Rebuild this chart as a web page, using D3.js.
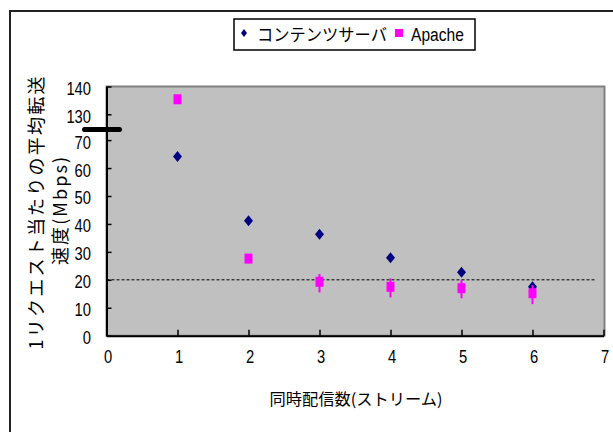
<!DOCTYPE html>
<html><head><meta charset="utf-8">
<script src="https://cdn.jsdelivr.net/npm/d3@7"></script>
<style>
body{margin:0;background:#fff}
text{font-family:"Liberation Sans",Arial,sans-serif;fill:#000}
.jp{font-family:"Noto Sans CJK JP","Noto Sans CJK SC",sans-serif}
</style>
</head><body><svg id="c" width="613" height="432"></svg>
<script>
// ---- data ----
const streams = [1, 2, 3, 4, 5, 6];
const contentServer = [64.1, 41.1, 36.3, 27.9, 22.7, 17.5];
const apache = [135.4, 27.6, 19.3, 17.5, 17.0, 15.2];
const apacheErrLow = [null, null, 15.5, 13.7, 13.4, 11.3];
const apacheErrHigh = [null, null, 22.1, 20.5, 19.9, 18.1];
const xTicks = [0, 1, 2, 3, 4, 5, 6, 7];
const yTicks = [0, 10, 20, 30, 40, 50, 60, 70, 130, 140];
const refLineX = [0, 6.9];
const refLineY = 20;
const seriesNames = ["コンテンツサーバ", "Apache"];
const xTitle = "同時配信数(ストリーム)";
const yTitle1 = "1リクエスト当たりの平均転送";
const yTitle2 = "速度(Mbps)";

const svg = d3.select("#c");
const L = 106.5, R = 604.5, T = 86.5, B = 335.7;
const x = d3.scaleLinear().domain([0, 7]).range([L, 603.5]);
const y = d3.scaleLinear().domain([0, 70, 130, 140]).range([B, 140.1, 114.3, T]);

// outer border
svg.append("rect").attr("x", 10).attr("y", 11).attr("width", 640).attr("height", 460)
  .attr("fill", "none").attr("stroke", "#222").attr("stroke-width", 2);

// plot area
svg.append("rect").attr("x", L).attr("y", T).attr("width", R - L).attr("height", B - T)
  .attr("fill", "#C0C0C0").attr("stroke", "#808080").attr("stroke-width", 2);

// reference dashed line
svg.append("line")
  .attr("x1", x(refLineX[0])).attr("x2", x(refLineX[1]))
  .attr("y1", y(refLineY)).attr("y2", y(refLineY))
  .attr("stroke", "#000").attr("stroke-width", 1).attr("stroke-dasharray", "3,2");

// axes
const yAxis = svg.append("g").attr("transform", `translate(${L},0)`)
  .call(d3.axisLeft(y).tickValues(yTicks).tickSize(-5).tickSizeOuter(0).tickFormat(d3.format("d")));
yAxis.select(".domain").attr("stroke", "#000").attr("stroke-width", 2);
yAxis.selectAll(".tick line").attr("stroke", "#000").attr("stroke-width", 1.5);
yAxis.selectAll(".tick text").attr("x", null).attr("dy", null)
  .attr("transform", "translate(-15.5,8) scale(0.82,1)")
  .attr("text-anchor", "end").style("font-size", "18px").attr("fill", "#000");

const xAxis = svg.append("g").attr("transform", `translate(0,${B})`)
  .call(d3.axisBottom(x).tickValues(xTicks).tickSize(-6).tickSizeOuter(0).tickFormat(d3.format("d")));
xAxis.select(".domain").attr("stroke", "#000").attr("stroke-width", 2);
xAxis.selectAll(".tick line").attr("stroke", "#000").attr("stroke-width", 1.5);
xAxis.selectAll(".tick text").attr("y", null).attr("dy", null)
  .attr("transform", "translate(1,27) scale(0.82,1)")
  .attr("text-anchor", "middle").style("font-size", "18px").attr("fill", "#000");

// axis break marker
const breakY = y(70) - 0.41 * (y(70) - y(130));
svg.append("line").attr("x1", L - 22).attr("x2", L + 13).attr("y1", breakY).attr("y2", breakY)
  .attr("stroke", "#000").attr("stroke-width", 5).attr("stroke-linecap", "round");

// series: content server (diamonds)
const diamond = "M0,-5.5L4.5,0L0,5.5L-4.5,0Z";
svg.append("g").selectAll("path").data(streams).join("path")
  .attr("d", diamond)
  .attr("transform", (d, i) => `translate(${x(d)},${y(contentServer[i])})`)
  .attr("fill", "#000080");

// Apache error bars
svg.append("g").selectAll("line").data(streams.filter((d, i) => apacheErrLow[i] != null)).join("line")
  .attr("x1", d => x(d)).attr("x2", d => x(d))
  .attr("y1", d => y(apacheErrLow[streams.indexOf(d)]))
  .attr("y2", d => y(apacheErrHigh[streams.indexOf(d)]))
  .attr("stroke", "#FF00FF").attr("stroke-width", 2);

// Apache squares
svg.append("g").selectAll("rect").data(streams).join("rect")
  .attr("x", d => x(d) - 4).attr("y", (d, i) => y(apache[i]) - 5)
  .attr("width", 8).attr("height", 10)
  .attr("fill", "#FF00FF");

// legend
const lg = svg.append("g");
lg.append("rect").attr("x", 234).attr("y", 19).attr("width", 241).attr("height", 31)
  .attr("fill", "#fff").attr("stroke", "#000").attr("stroke-width", 1.5);
lg.append("path").attr("d", "M0,-4L3,0L0,4L-3,0Z").attr("transform", "translate(244,33)").attr("fill", "#000080");
lg.append("text").attr("class", "jp").attr("x", 257).attr("y", 41).style("font-size", "17px")
  .attr("textLength", 130).attr("lengthAdjust", "spacingAndGlyphs").text(seriesNames[0]);
lg.append("rect").attr("x", 395).attr("y", 29).attr("width", 8).attr("height", 8).attr("fill", "#FF00FF");
lg.append("text").attr("transform", "translate(411,41) scale(0.82,1)").style("font-size", "19px").text(seriesNames[1]);

// axis titles
svg.append("text").attr("class", "jp").attr("x", 356).attr("y", 405).attr("text-anchor", "middle")
  .style("font-size", "16px").attr("textLength", 173).attr("lengthAdjust", "spacingAndGlyphs").text(xTitle);

svg.append("text").attr("class", "jp").attr("transform", "translate(43,213) rotate(-90)")
  .attr("text-anchor", "middle").style("font-size", "18px")
  .attr("textLength", 273).attr("lengthAdjust", "spacing").text(yTitle1);
svg.append("text").attr("class", "jp").attr("transform", "translate(67,211) rotate(-90)")
  .attr("text-anchor", "middle").style("font-size", "18px")
  .attr("textLength", 108).attr("lengthAdjust", "spacing").text(yTitle2);
</script>
</body></html>
